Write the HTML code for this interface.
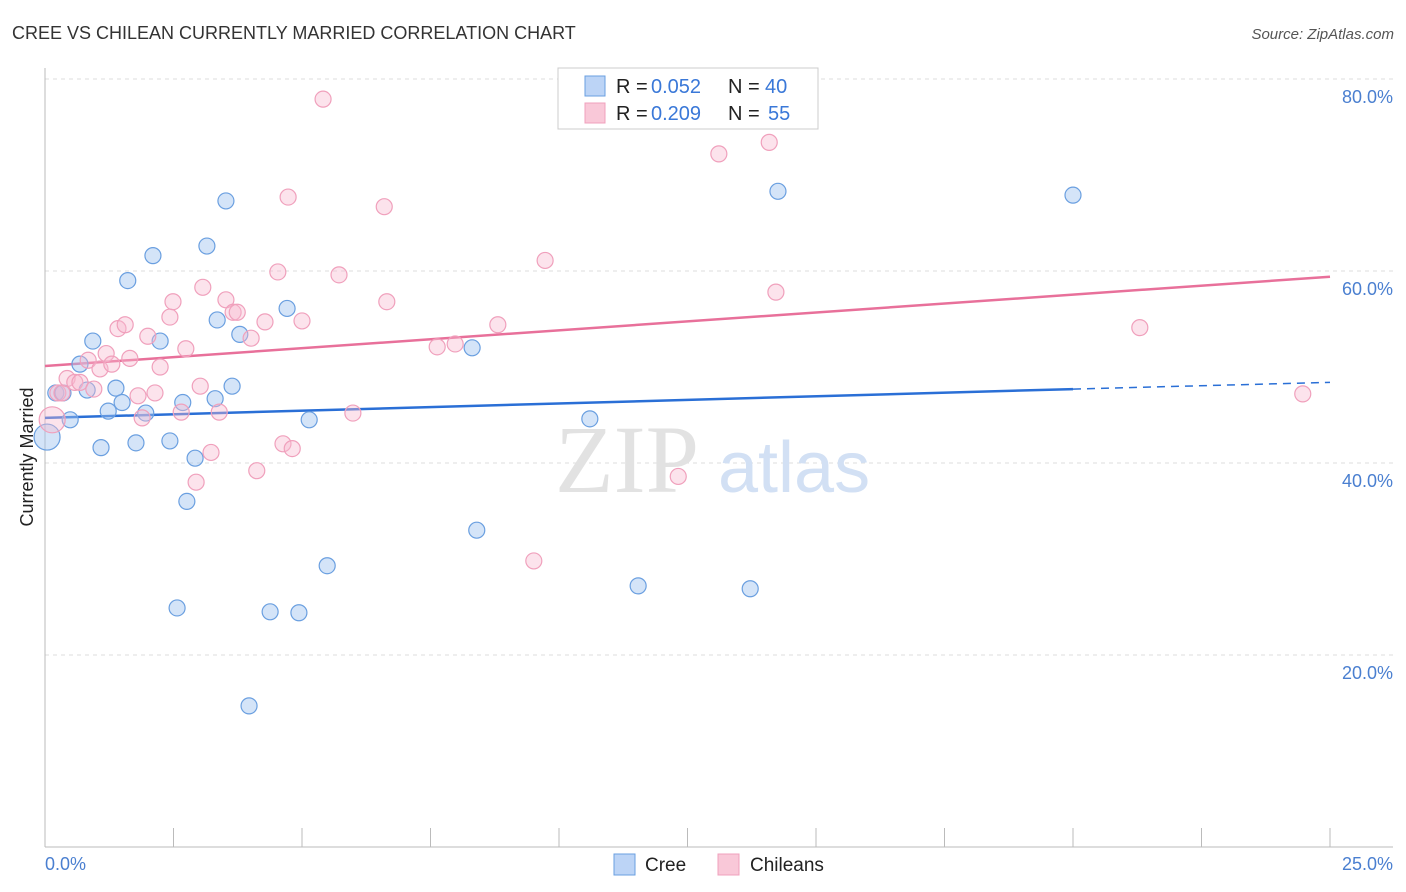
<!DOCTYPE html>
<html><head><meta charset="utf-8"><style>
body{margin:0;background:#fff;font-family:"Liberation Sans",sans-serif;}
svg{display:block}
</style></head><body>
<svg id="chart" width="1406" height="892">
<text x="12" y="39" font-size="18" fill="#333">CREE VS CHILEAN CURRENTLY MARRIED CORRELATION CHART</text>
<text x="1394" y="39" font-size="15" fill="#555" font-style="italic" text-anchor="end">Source: ZipAtlas.com</text>
<g id="grid"></g>
<g><text x="555" y="492" font-size="96" fill="#e2e2e2" font-family="Liberation Serif,serif">ZIP</text><text x="718" y="492" font-size="72" fill="#d2e0f4">atlas</text></g>
<text transform="translate(33,457) rotate(-90)" font-size="18" fill="#222" text-anchor="middle">Currently Married</text>
<g id="axes"></g>
<g id="lines"></g>
<g id="pts"></g>
<g>
<rect x="558" y="68" width="260" height="61" fill="#fff" stroke="#ccc"/>
<rect x="585" y="76" width="20" height="20" fill="#bcd4f6" stroke="#6a9fe0"/>
<rect x="585" y="103" width="20" height="20" fill="#f9c8d8" stroke="#f0a0bc"/>
<text y="93" font-size="20" fill="#222"><tspan x="616">R = </tspan><tspan x="651" fill="#3a78d8">0.052</tspan><tspan x="728">N = </tspan><tspan x="765" fill="#3a78d8">40</tspan></text>
<text y="120" font-size="20" fill="#222"><tspan x="616">R = </tspan><tspan x="651" fill="#3a78d8">0.209</tspan><tspan x="728">N = </tspan><tspan x="768" fill="#3a78d8">55</tspan></text>
</g>
<g>
<rect x="614" y="854" width="21" height="21" fill="#bcd4f6" stroke="#6a9fe0"/>
<text x="645" y="871" font-size="19" fill="#222">Cree</text>
<rect x="718" y="854" width="21" height="21" fill="#f9c8d8" stroke="#f0a0bc"/>
<text x="750" y="871" font-size="19" fill="#222">Chileans</text>
</g>
</svg>
<script>
const yTicks=[20,40,60,80];
const xTickLabels=["0.0%","25.0%"];
const creeX=[0.21,0.35,0.49,0.04,0.68,0.82,0.93,1.09,1.23,1.38,1.50,1.61,1.77,1.96,2.10,2.24,2.43,2.57,2.68,2.76,2.92,3.15,3.31,3.35,3.52,3.64,3.79,3.97,4.38,4.71,4.94,5.14,5.49,8.31,8.40,10.60,11.54,13.72,14.26,20.00];
const creeY=[47.3,47.3,44.5,42.7,50.3,47.6,52.7,41.6,45.4,47.8,46.3,59.0,42.1,45.2,61.6,52.7,42.3,24.9,46.3,36.0,40.5,62.6,46.7,54.9,67.3,48.0,53.4,14.7,24.5,56.1,24.4,44.5,29.3,52.0,33.0,44.6,27.2,26.9,68.3,67.9];
const chiX=[0.14,0.25,0.33,0.43,0.58,0.68,0.84,0.95,1.07,1.19,1.30,1.42,1.56,1.65,1.81,1.89,2.00,2.14,2.24,2.43,2.49,2.65,2.74,2.94,3.02,3.07,3.23,3.39,3.52,3.66,3.74,4.01,4.12,4.28,4.53,4.63,4.73,4.81,5.00,5.41,5.72,5.99,6.60,6.65,7.63,7.98,8.81,9.51,9.73,12.32,13.11,14.09,14.22,21.30,24.47];
const chiY=[44.5,47.3,47.3,48.8,48.4,48.4,50.7,47.7,49.8,51.4,50.3,54.0,54.4,50.9,47.0,44.7,53.2,47.3,50.0,55.2,56.8,45.3,51.9,38.0,48.0,58.3,41.1,45.3,57.0,55.7,55.7,53.0,39.2,54.7,59.9,42.0,67.7,41.5,54.8,77.9,59.6,45.2,66.7,56.8,52.1,52.4,54.4,29.8,61.1,38.6,72.2,73.4,57.8,54.1,47.2];
const creeTrend=[44.7,47.7,48.4];
const chiTrend=[50.1,59.4];
const NS='http://www.w3.org/2000/svg';
const sx=v=>45+v*51.4, sy=v=>847-v*9.6;
function mk(tag,attrs,parent){const e=document.createElementNS(NS,tag);for(const k in attrs)e.setAttribute(k,attrs[k]);document.getElementById(parent).appendChild(e);return e;}
yTicks.forEach(t=>{
 const l=mk('line',{x1:45,x2:1393,y1:sy(t),y2:sy(t),stroke:'#ddd','stroke-dasharray':'4,4'},'grid');
 
 
 const tx=mk('text',{x:1393,y:sy(t)+24,'font-size':18,fill:'#4a7fd0','text-anchor':'end'},'grid');
 tx.textContent=t.toFixed(1)+'%';
 
 
});
mk('line',{x1:45,x2:45,y1:68,y2:847,stroke:'#bbb'},'axes');
mk('line',{x1:45,x2:1393,y1:847,y2:847,stroke:'#bbb'},'axes');
for(let i=0;i<=10;i++){const t=mk('line',{x1:sx(i*2.5),x2:sx(i*2.5),y1:828,y2:847,stroke:'#bbb'},'axes');
 
 }
let a=mk('text',{x:45,y:870,'font-size':18,fill:'#4a7fd0'},'axes');a.textContent=xTickLabels[0];


a=mk('text',{x:1393,y:870,'font-size':18,fill:'#4a7fd0','text-anchor':'end'},'axes');a.textContent=xTickLabels[1];


function pts(X,Y,fill,stroke,name){X.forEach((x,i)=>{const r=(x<0.2)?13:8;const c=mk('circle',{cx:sx(x),cy:sy(Y[i]),r:r,fill:fill,stroke:stroke,'stroke-width':1.2},'pts');
 
 });}
pts(creeX,creeY,'rgba(160,195,240,0.45)','#6a9fe0','cree-point');
pts(chiX,chiY,'rgba(248,185,208,0.4)','#f0a0bc','chilean-point');
let ln=mk('line',{x1:sx(0),y1:sy(creeTrend[0]),x2:sx(20),y2:sy(creeTrend[1]),stroke:'#2a6fd6','stroke-width':2.5},'lines');


ln=mk('line',{x1:sx(20),y1:sy(creeTrend[1]),x2:sx(25),y2:sy(creeTrend[2]),stroke:'#2a6fd6','stroke-width':1.5,'stroke-dasharray':'8,6'},'lines');


ln=mk('line',{x1:sx(0),y1:sy(chiTrend[0]),x2:sx(25),y2:sy(chiTrend[1]),stroke:'#e8709a','stroke-width':2.5},'lines');


</script>
</body></html>
